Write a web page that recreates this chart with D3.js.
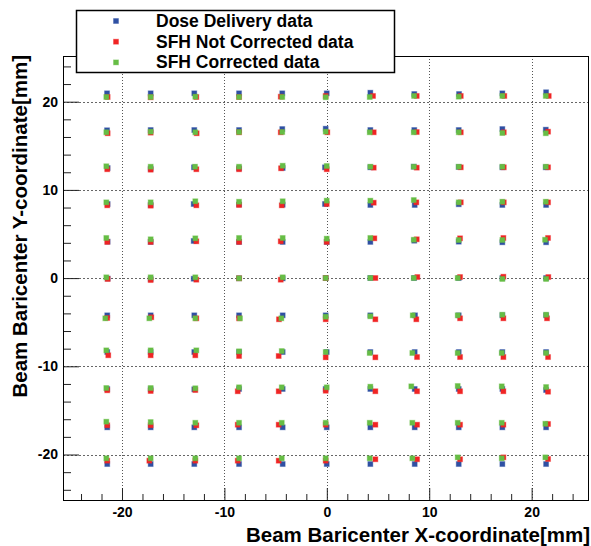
<!DOCTYPE html>
<html>
<head>
<meta charset="utf-8">
<script src="https://cdn.jsdelivr.net/npm/d3@7"></script>
<style>
  body { margin: 0; background: #fff; }
  svg { display: block; }
  text { font-family: "Liberation Sans", Arial, Helvetica, sans-serif; font-weight: bold; fill: #000; }
</style>
</head>
<body>
<div id="chart"></div>
<script>

// Legend entries and marker colours
var seriesNames = ["Dose Delivery data", "SFH Not Corrected data", "SFH Corrected data"];
var seriesColors = ["#2f50a3", "#f02424", "#66bd45"];

// Axis ticks
var xMajorTicks = [-20, -10, 0, 10, 20];
var yMajorTicks = [-20, -10, 0, 10, 20];
var minorTicks = [-24, -22, -18, -16, -14, -12, -8, -6, -4, -2, 2, 4, 6, 8, 12, 14, 16, 18, 22, 24];

// Dose Delivery data (rows from top to bottom, 11 points per row)
var doseX = [
  -21.46, -17.20, -12.94, -8.57, -4.35, -0.01, 4.25, 8.54, 12.91, 17.14, 21.41,
  -21.46, -17.20, -12.94, -8.57, -4.35, -0.11, 4.25, 8.54, 12.88, 17.14, 21.38,
  -21.40, -17.20, -12.97, -8.57, -4.31, -0.18, 4.25, 8.49, 12.88, 17.14, 21.38,
  -21.40, -17.20, -13.00, -8.57, -4.31, -0.18, 4.25, 8.58, 12.88, 17.14, 21.41,
  -21.40, -17.20, -13.00, -8.57, -4.31, -0.01, 4.25, 8.54, 12.88, 17.14, 21.41,
  -21.40, -17.20, -13.00, -8.57, -4.31, -0.11, 4.25, 8.52, 12.88, 17.14, 21.41,
  -21.44, -17.20, -12.94, -8.57, -4.31, -0.11, 4.25, 8.61, 12.88, 17.14, 21.41,
  -21.44, -17.20, -12.94, -8.57, -4.31, -0.01, 4.25, 8.58, 12.88, 17.14, 21.41,
  -21.44, -17.20, -12.94, -8.57, -4.31, -0.11, 4.25, 8.58, 12.88, 17.14, 21.41,
  -21.44, -17.20, -12.94, -8.57, -4.31, -0.01, 4.25, 8.58, 12.88, 17.14, 21.41,
  -21.44, -17.20, -12.94, -8.57, -4.31, -0.01, 4.25, 8.58, 12.88, 17.14, 21.41
];
var doseY = [
  20.95, 20.95, 20.95, 20.95, 20.95, 20.95, 21.02, 20.87, 20.87, 20.95, 21.07,
  16.76, 16.79, 16.79, 16.79, 16.90, 16.94, 16.79, 16.79, 16.79, 16.90, 16.83,
  12.48, 12.40, 12.56, 12.45, 12.48, 12.56, 12.56, 12.63, 12.60, 12.56, 12.56,
  8.40, 8.30, 8.40, 8.35, 8.32, 8.40, 8.29, 8.29, 8.37, 8.29, 8.29,
  4.13, 4.10, 4.21, 4.10, 4.10, 4.10, 4.10, 4.24, 4.13, 4.06, 4.06,
  -0.05, -0.10, -0.07, -0.02, -0.03, 0.01, 0.01, 0.01, 0.01, 0.01, 0.01,
  -4.22, -4.22, -4.22, -4.22, -4.22, -4.22, -4.22, -4.22, -4.22, -4.22, -4.22,
  -8.38, -8.38, -8.38, -8.38, -8.38, -8.38, -8.38, -8.38, -8.38, -8.38, -8.38,
  -12.57, -12.61, -12.61, -12.57, -12.57, -12.57, -12.57, -12.57, -12.57, -12.57, -12.69,
  -16.92, -16.92, -16.92, -16.92, -16.92, -16.92, -16.92, -16.92, -16.92, -16.92, -16.92,
  -21.08, -21.08, -21.08, -21.08, -21.08, -21.08, -21.08, -21.08, -21.08, -21.08, -21.08
];

// SFH Not Corrected data
var rawX = [
  -21.40, -17.20, -12.74, -8.57, -4.50, -0.11, 4.51, 8.78, 13.08, 17.33, 21.67,
  -21.40, -17.20, -12.71, -8.57, -4.50, 0.05, 4.58, 8.78, 13.08, 17.28, 21.60,
  -21.44, -17.20, -12.74, -8.57, -4.47, -0.01, 4.58, 8.78, 13.08, 17.28, 21.60,
  -21.44, -17.20, -12.74, -8.57, -4.40, -0.01, 4.58, 8.74, 13.08, 17.28, 21.60,
  -21.44, -17.20, -12.74, -8.57, -4.50, -0.01, 4.64, 8.78, 13.01, 17.24, 21.60,
  -21.40, -17.20, -12.74, -8.57, -4.50, -0.11, 4.74, 8.84, 13.01, 17.24, 21.63,
  -21.44, -17.14, -12.74, -8.57, -4.67, -0.11, 4.74, 8.74, 13.01, 17.24, 21.50,
  -21.34, -17.20, -12.84, -8.57, -4.70, -0.11, 4.74, 8.81, 13.01, 17.24, 21.60,
  -21.44, -17.20, -12.84, -8.70, -4.70, -0.11, 4.74, 8.81, 13.01, 17.24, 21.60,
  -21.44, -17.20, -12.74, -8.70, -4.70, -0.11, 4.74, 8.81, 13.01, 17.24, 21.60,
  -21.44, -17.33, -12.84, -8.70, -4.70, -0.11, 4.74, 8.81, 13.01, 17.24, 21.60
];
var rawY = [
  20.53, 20.50, 20.53, 20.53, 20.57, 20.65, 20.65, 20.65, 20.65, 20.65, 20.65,
  16.42, 16.49, 16.42, 16.53, 16.53, 16.53, 16.53, 16.56, 16.53, 16.53, 16.60,
  12.34, 12.29, 12.34, 12.34, 12.45, 12.34, 12.52, 12.52, 12.56, 12.56, 12.56,
  8.25, 8.21, 8.25, 8.29, 8.25, 8.40, 8.55, 8.59, 8.59, 8.59, 8.59,
  4.10, 4.10, 4.17, 4.10, 4.17, 4.10, 4.51, 4.40, 4.51, 4.55, 4.55,
  -0.10, -0.22, -0.18, -0.02, -0.18, 0.01, 0.01, 0.12, 0.12, 0.16, 0.12,
  -4.52, -4.44, -4.56, -4.56, -4.67, -4.67, -4.67, -4.67, -4.56, -4.56, -4.56,
  -8.75, -8.75, -8.75, -8.83, -8.83, -8.98, -8.98, -8.95, -8.95, -8.95, -8.95,
  -12.72, -12.80, -12.69, -12.83, -12.83, -12.77, -12.83, -12.83, -12.83, -12.83, -12.88,
  -16.69, -16.69, -16.69, -16.62, -16.62, -16.62, -16.62, -16.62, -16.62, -16.62, -16.54,
  -20.70, -20.70, -20.70, -20.70, -20.70, -20.70, -20.54, -20.54, -20.54, -20.32, -20.51
];

// SFH Corrected data
var corrX = [
  -21.53, -17.20, -12.84, -8.57, -4.35, -0.11, 4.19, 8.52, 12.88, 17.14, 21.38,
  -21.53, -17.20, -12.84, -8.57, -4.35, -0.11, 4.19, 8.49, 12.88, 17.14, 21.38,
  -21.53, -17.20, -12.87, -8.57, -4.31, -0.01, 4.25, 8.49, 12.88, 17.14, 21.38,
  -21.53, -17.20, -12.84, -8.57, -4.31, -0.01, 4.25, 8.49, 12.88, 17.14, 21.38,
  -21.53, -17.20, -12.84, -8.57, -4.31, -0.01, 4.25, 8.49, 12.88, 17.14, 21.31,
  -21.53, -17.20, -12.84, -8.57, -4.31, -0.11, 4.25, 8.49, 12.78, 17.14, 21.41,
  -21.63, -17.33, -12.84, -8.48, -4.44, -0.11, 4.25, 8.39, 12.78, 17.14, 21.41,
  -21.53, -17.20, -12.74, -8.57, -4.40, -0.11, 4.19, 8.35, 12.78, 17.08, 21.41,
  -21.53, -17.20, -12.84, -8.57, -4.40, -0.01, 4.25, 8.25, 12.78, 17.08, 21.41,
  -21.53, -17.20, -12.84, -8.57, -4.40, -0.11, 4.19, 8.35, 12.78, 17.08, 21.34,
  -21.53, -17.20, -12.84, -8.57, -4.40, -0.11, 4.19, 8.35, 12.78, 17.08, 21.34
];
var corrY = [
  20.53, 20.53, 20.57, 20.53, 20.53, 20.50, 20.53, 20.65, 20.57, 20.65, 20.65,
  16.53, 16.60, 16.53, 16.56, 16.56, 16.60, 16.53, 16.53, 16.53, 16.45, 16.42,
  12.68, 12.63, 12.63, 12.63, 12.74, 12.71, 12.63, 12.63, 12.63, 12.63, 12.63,
  8.59, 8.59, 8.71, 8.66, 8.71, 8.78, 8.78, 8.85, 8.59, 8.66, 8.66,
  4.55, 4.40, 4.51, 4.55, 4.55, 4.47, 4.55, 4.35, 4.32, 4.32, 4.35,
  0.09, 0.09, 0.09, -0.02, 0.09, 0.01, 0.01, 0.01, 0.01, -0.10, -0.10,
  -4.56, -4.56, -4.56, -4.56, -4.56, -4.38, -4.33, -4.22, -4.22, -4.15, -4.15,
  -8.19, -8.19, -8.19, -8.30, -8.27, -8.38, -8.49, -8.49, -8.49, -8.49, -8.49,
  -12.46, -12.46, -12.49, -12.38, -12.38, -12.38, -12.31, -12.27, -12.23, -12.27, -12.35,
  -16.28, -16.32, -16.40, -16.40, -16.40, -16.40, -16.40, -16.40, -16.40, -16.40, -16.51,
  -20.43, -20.43, -20.43, -20.43, -20.43, -20.43, -20.43, -20.43, -20.32, -20.43, -20.32
];

var xTitle = "Beam Baricenter X-coordinate[mm]";
var yTitle = "Beam Baricenter Y-coordinate[mm]";

// Setup size.
var W = 591, H = 546;
var margin = { top: 56, right: 2, bottom: 45, left: 63 };
var width = W - margin.left - margin.right;
var height = H - margin.top - margin.bottom;

var xScale = d3.scaleLinear().domain([-25.76, 25.6]).range([0, width]);
var yScale = d3.scaleLinear().domain([-25.27, 25.18]).range([height, 0]);

var svg = d3.select("#chart").append("svg")
    .attr("width", W)
    .attr("height", H);

var g = svg.append("g")
    .attr("transform", "translate(" + margin.left + "," + margin.top + ")");

// Dotted grid at major ticks
g.append("g").selectAll("line")
    .data(xMajorTicks)
    .join("line")
    .attr("x1", function (d) { return Math.round(xScale(d)) + 0.5; })
    .attr("x2", function (d) { return Math.round(xScale(d)) + 0.5; })
    .attr("y1", 0)
    .attr("y2", height)
    .attr("stroke", "#555")
    .attr("stroke-dasharray", "1,2");

g.append("g").selectAll("line")
    .data(yMajorTicks)
    .join("line")
    .attr("y1", function (d) { return Math.round(yScale(d)) + 0.5; })
    .attr("y2", function (d) { return Math.round(yScale(d)) + 0.5; })
    .attr("x1", 0)
    .attr("x2", width)
    .attr("stroke", "#666")
    .attr("stroke-dasharray", "2,2");

// Axes: ticks pointing inward
var fmt = function (d) { return String(d); };

var xAxis = g.append("g")
    .attr("transform", "translate(0," + height + ")")
    .call(d3.axisBottom(xScale).tickValues(xMajorTicks).tickSize(-13).tickPadding(6).tickFormat(fmt));
g.append("g")
    .attr("transform", "translate(0," + height + ")")
    .call(d3.axisBottom(xScale).tickValues(minorTicks).tickSize(-7).tickFormat(""));

var yAxis = g.append("g")
    .call(d3.axisLeft(yScale).tickValues(yMajorTicks).tickSize(-16).tickPadding(5).tickFormat(fmt));
g.append("g")
    .call(d3.axisLeft(yScale).tickValues(minorTicks).tickSize(-8).tickFormat(""));

g.selectAll(".domain").remove();
g.selectAll(".tick line").attr("stroke", "#222");
g.selectAll(".tick text")
    .attr("font-size", 14)
    .attr("font-weight", "bold")
    .attr("font-family", "Liberation Sans, Arial, sans-serif")
    .attr("fill", "#000");

// Frame
g.append("rect")
    .attr("x", 0.5)
    .attr("y", 0.5)
    .attr("width", width - 1)
    .attr("height", height - 1)
    .attr("fill", "none")
    .attr("stroke", "#000")
    .attr("stroke-width", 1);

// Markers
var allSeries = [
    { xs: doseX, ys: doseY },
    { xs: rawX, ys: rawY },
    { xs: corrX, ys: corrY }
];
var ms = 5;

allSeries.forEach(function (s, k) {
    var pts = s.xs.map(function (x, i) { return { x: x, y: s.ys[i] }; });
    g.append("g").selectAll("rect")
        .data(pts)
        .join("rect")
        .attr("x", function (d) { return xScale(d.x) - ms / 2; })
        .attr("y", function (d) { return yScale(d.y) - ms / 2; })
        .attr("width", ms)
        .attr("height", ms)
        .attr("fill", seriesColors[k])
        .attr("stroke", seriesColors[k])
        .attr("stroke-opacity", 0.35)
        .attr("stroke-width", 1);
});

// Axis titles
svg.append("text")
    .attr("x", 590)
    .attr("y", 541.5)
    .attr("text-anchor", "end")
    .attr("font-size", 20.5)
    .text(xTitle);

svg.append("text")
    .attr("transform", "translate(27,55) rotate(-90)")
    .attr("text-anchor", "end")
    .attr("font-size", 20.5)
    .text(yTitle);

// Legend
var legend = svg.append("g");
legend.append("rect")
    .attr("x", 76.5)
    .attr("y", 10.5)
    .attr("width", 318)
    .attr("height", 62)
    .attr("fill", "#fff")
    .attr("stroke", "#000")
    .attr("stroke-width", 1.5);

seriesNames.forEach(function (name, k) {
    var cy = 21 + k * 20.7;
    legend.append("rect")
        .attr("x", 116 - ms / 2)
        .attr("y", cy - ms / 2)
        .attr("width", ms)
        .attr("height", ms)
        .attr("fill", seriesColors[k])
        .attr("stroke", seriesColors[k])
        .attr("stroke-opacity", 0.35);
    legend.append("text")
        .attr("x", 156)
        .attr("y", cy + 6)
        .attr("font-size", 17.5)
        .text(name);
});

</script>
</body>
</html>
